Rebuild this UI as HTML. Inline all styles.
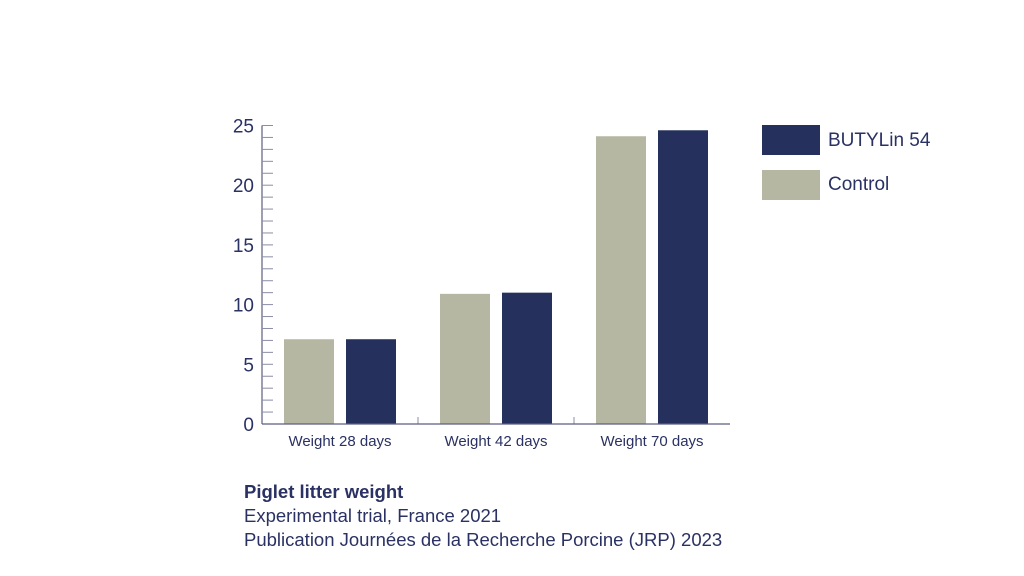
<!DOCTYPE html>
<html><head><meta charset="utf-8"><style>
body{margin:0;background:#fff;font-family:"Liberation Sans",sans-serif;}
svg{display:block}
</style></head><body>
<svg id="c" width="1024" height="576" font-family="Liberation Sans, sans-serif" fill="#2a3163"></svg>
<script>
const categories=["Weight 28 days","Weight 42 days","Weight 70 days"];
const controlValues=[7.1,10.9,24.1];
const butylinValues=[7.1,11.0,24.6];
const yTicks=[0,5,10,15,20,25];
const NS="http://www.w3.org/2000/svg";
const svg=document.getElementById('c');
const x0=262,x1=730,y0=424,yTop=125.5,yMax=25;
const y=v=>y0-(v/yMax)*(y0-yTop);
const band=(x1-x0)/categories.length;
const cx=i=>x0+band*(i+0.5);
function el(t,a,txt){const e=document.createElementNS(NS,t);for(const k in a)e.setAttribute(k,a[k]);if(txt!=null)e.textContent=txt;svg.appendChild(e);return e;}
const ax=el('line',{x1:x0,y1:yTop,x2:x0,y2:y0,stroke:'#5a5f80','stroke-width':1.2});


for(let v=0;v<=yMax;v++){const t=el('line',{x1:x0,x2:x0+11,y1:y(v),y2:y(v),stroke:'#8a8da5','stroke-width':1});

}
yTicks.forEach(v=>{const t=el('text',{x:x0-8,y:y(v)+7,'text-anchor':'end','font-size':19},v);

});
categories.forEach((c,i)=>{
const b1=el('rect',{x:cx(i)-56,y:y(controlValues[i]),width:50,height:y0-y(controlValues[i]),fill:'#b5b7a3'});


const b2=el('rect',{x:cx(i)+6,y:y(butylinValues[i]),width:50,height:y0-y(butylinValues[i]),fill:'#25305c'});


const l=el('text',{x:cx(i),y:446,'text-anchor':'middle','font-size':15},c);


if(i>0){const s=el('line',{x1:x0+band*i,x2:x0+band*i,y1:y0-7,y2:y0,stroke:'#8a8da5'});

}
});
const xa=el('line',{x1:x0,y1:y0,x2:x1,y2:y0,stroke:'#5a5f80','stroke-width':1.2});


</script>
<div style="position:absolute;left:762;top:0"></div>
<div style="position:absolute;left:762px;top:125px;color:#2a3163;font-size:19px">
<div style="position:absolute;left:0;top:0;white-space:nowrap"><span style="position:absolute;left:0;top:0;width:58px;height:30px;background:#25305c"></span><span style="position:absolute;left:66px;top:5px">BUTYLin 54</span></div>
<div style="position:absolute;left:0;top:45px;white-space:nowrap"><span style="position:absolute;left:0;top:0;width:58px;height:30px;background:#b5b7a3"></span><span style="position:absolute;left:66px;top:4px">Control</span></div>
</div>
<div style="position:absolute;left:244px;top:480px;color:#2a3163;font-size:18.5px;line-height:24px">
<div style="font-weight:bold">Piglet litter weight</div>
<div>Experimental trial, France 2021</div>
<div>Publication Journées de la Recherche Porcine (JRP) 2023</div>
</div>
</body></html>
